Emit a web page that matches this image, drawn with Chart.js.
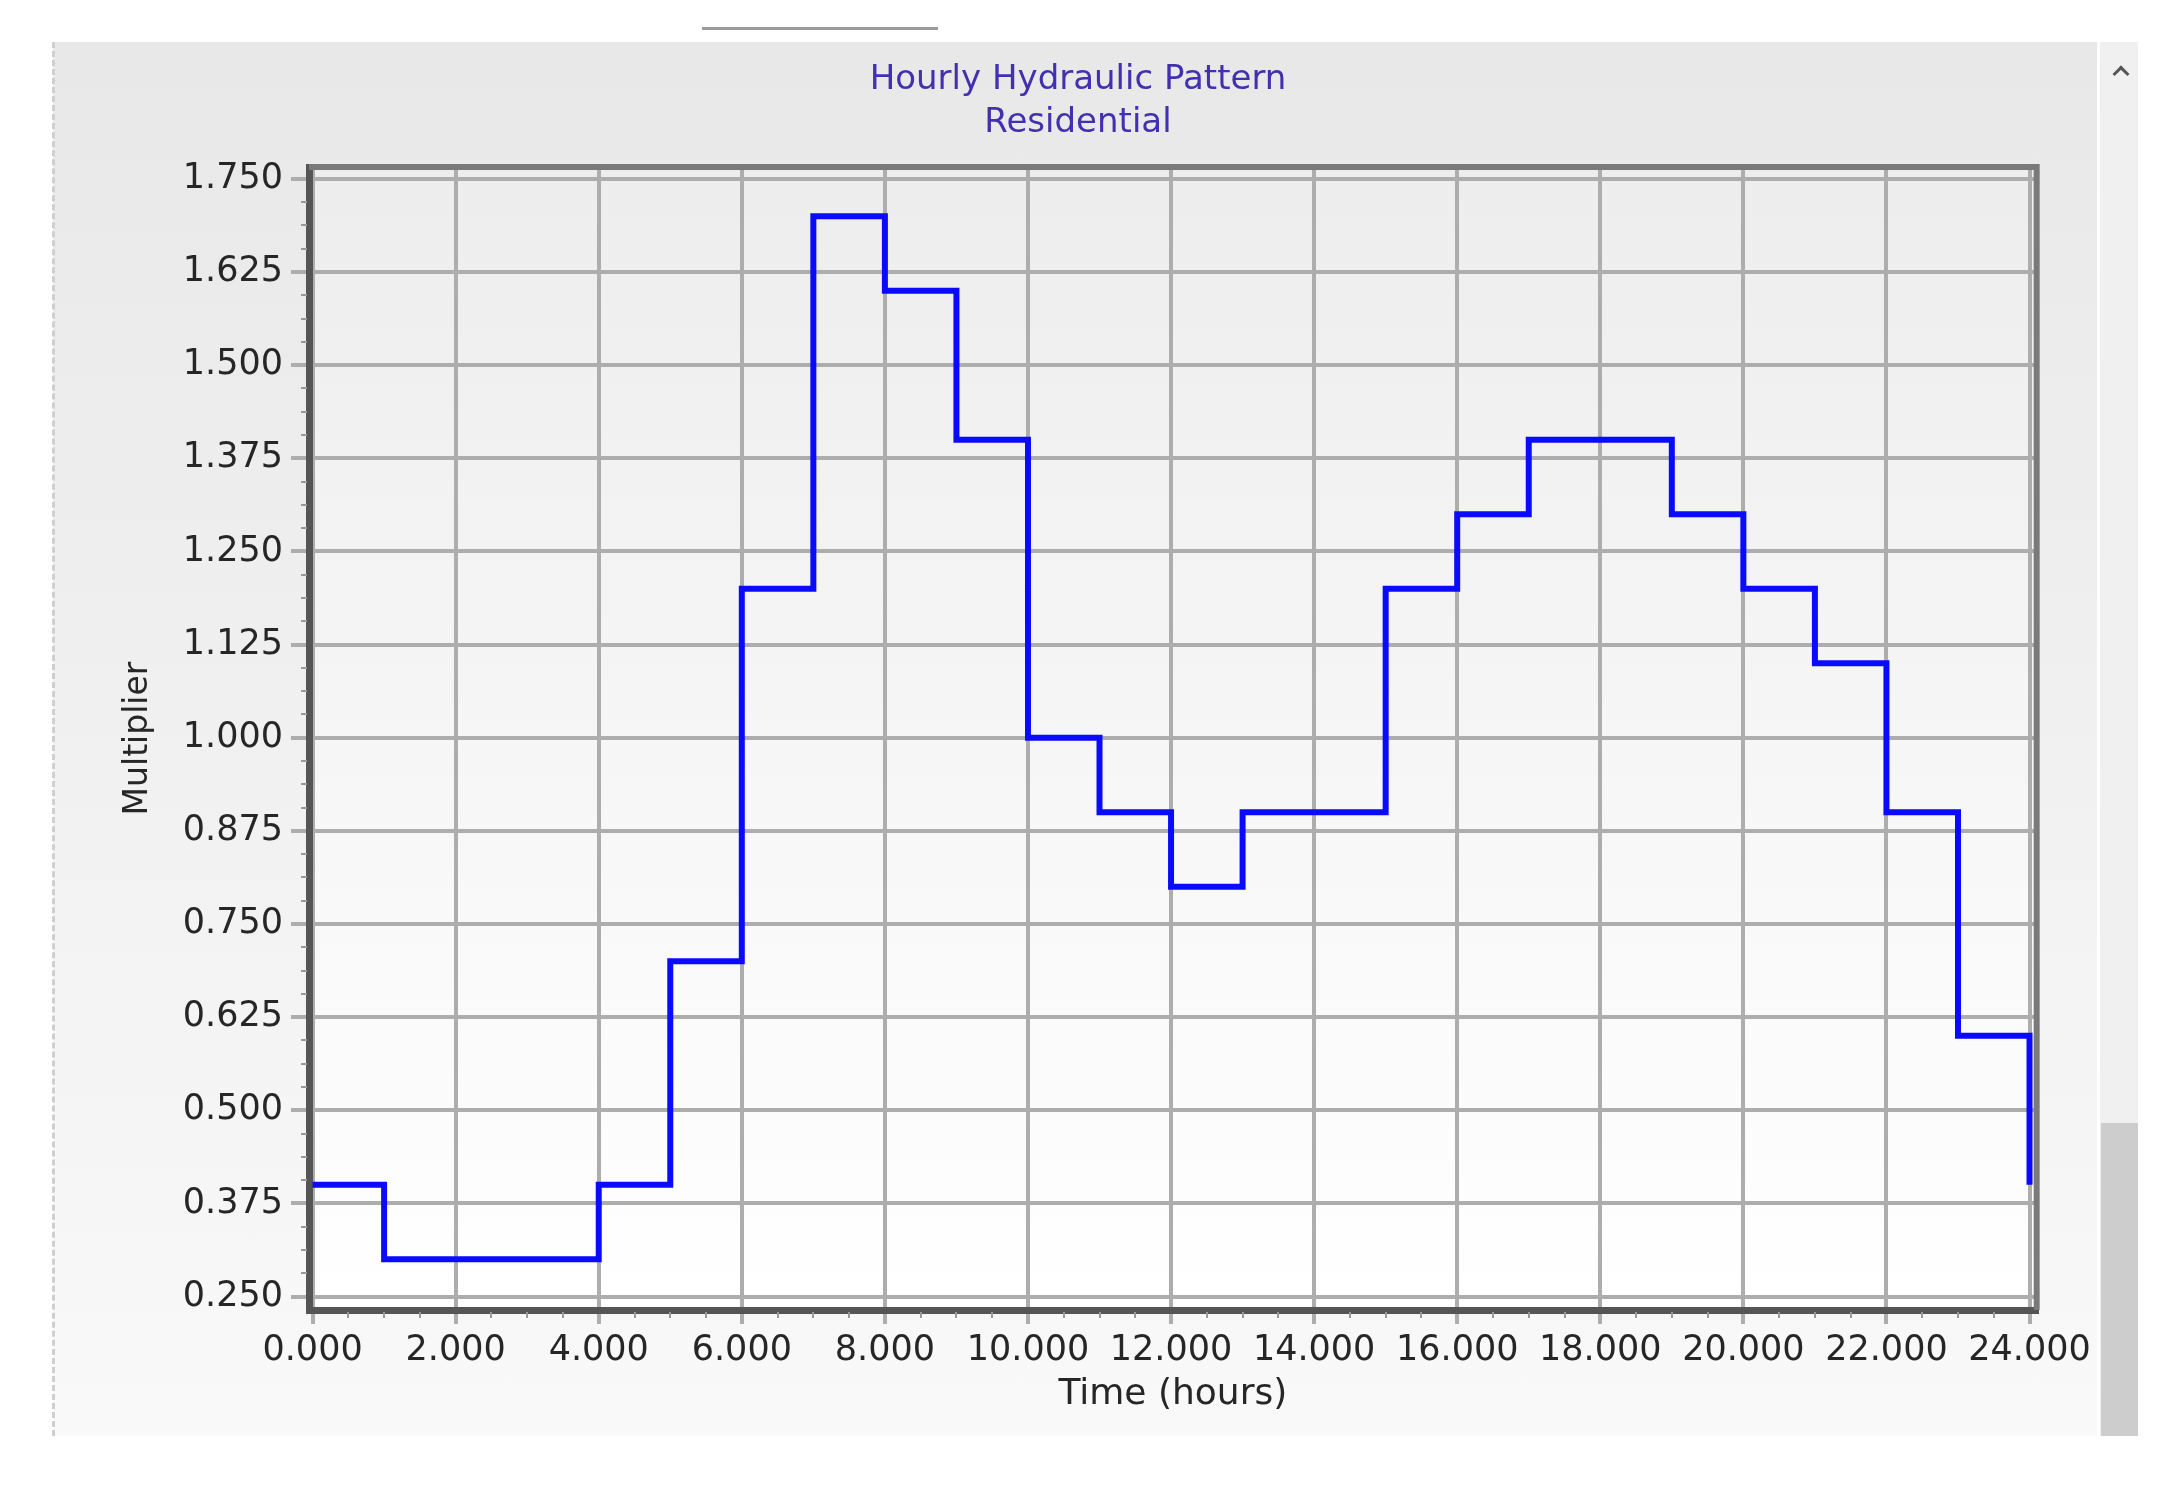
<!DOCTYPE html>
<html>
<head>
<meta charset="utf-8">
<title>Hourly Hydraulic Pattern</title>
<script src="https://cdn.jsdelivr.net/npm/chart.js@4.4.1/dist/chart.umd.min.js"></script>
<style>
  html, body { margin: 0; padding: 0; background: #fff; }
  body { width: 2180px; height: 1490px; position: relative; overflow: hidden; }
  #tab    { position: absolute; left: 702px; top: 27px; width: 236px; height: 3px; background: #9a9a9a; }
  #panel  { position: absolute; left: 53px; top: 42px; width: 2044px; height: 1394px;
            background: linear-gradient(#e8e8e8, #f9f9f9); }
  #dash   { position: absolute; left: 52px; top: 42px; height: 1394px; border-left: 3px dashed #cfcfcf; }
  #scroll { position: absolute; left: 2100px; top: 42px; width: 38px; height: 1394px; background: #f0f0f0; }
  #thumb  { position: absolute; left: 2101px; top: 1123px; width: 37px; height: 313px; background: #cdcdcd; }
  #arrow  { position: absolute; left: 2115px; top: 68px; width: 9px; height: 9px;
            border-top: 3px solid #555; border-left: 3px solid #555; transform: rotate(45deg); }
</style>
</head>
<body>
<div id="tab"></div>
<div id="panel"><canvas id="patternChart" width="2044" height="1394"></canvas></div>
<div id="dash"></div>
<div id="scroll"></div>
<div id="thumb"></div>
<div id="arrow"></div>
<script>
// ---------------- DATA ----------------
const HOURS      = [0, 1, 2, 3, 4, 5, 6, 7, 8, 9, 10, 11, 12, 13, 14, 15, 16, 17, 18, 19, 20, 21, 22, 23, 24];
const MULTIPLIER = [0.4, 0.3, 0.3, 0.3, 0.4, 0.7, 1.2, 1.7, 1.6, 1.4, 1.0, 0.9, 0.8, 0.9, 0.9, 1.2, 1.3, 1.4, 1.4, 1.3, 1.2, 1.1, 0.9, 0.6, 0.4];
const X_TICKS    = [0, 2, 4, 6, 8, 10, 12, 14, 16, 18, 20, 22, 24];
const Y_TICKS    = [0.25, 0.375, 0.5, 0.625, 0.75, 0.875, 1.0, 1.125, 1.25, 1.375, 1.5, 1.625, 1.75];
const TITLE      = ['Hourly Hydraulic Pattern', 'Residential'];

const FONT = '"DejaVu Sans", "Liberation Sans", sans-serif';
const GRID = '#adadad';
const TEXT = '#262626';

// chart area background + top/right frame + minor ticks
const framePlugin = {
  id: 'frame',
  beforeDraw(chart) {
    const { ctx, chartArea: a } = chart;
    const g = ctx.createLinearGradient(0, a.top, 0, a.bottom);
    g.addColorStop(0, '#ededed');
    g.addColorStop(1, '#ffffff');
    ctx.save();
    ctx.fillStyle = g;
    ctx.fillRect(a.left, a.top, a.right - a.left, a.bottom - a.top);
    ctx.restore();
  },
  afterDraw(chart) {
    const { ctx, chartArea: a, scales } = chart;
    ctx.save();
    ctx.strokeStyle = '#7a7a7a';
    ctx.lineWidth = 6;
    ctx.beginPath();
    ctx.moveTo(a.left, a.top);
    ctx.lineTo(a.right, a.top);
    ctx.lineTo(a.right, a.bottom);
    ctx.stroke();

    // minor ticks, 3 between each pair of labelled ticks
    ctx.strokeStyle = '#999';
    ctx.lineWidth = 2;
    ctx.beginPath();
    for (let i = 0; i < X_TICKS.length - 1; i++) {
      const step = (X_TICKS[i + 1] - X_TICKS[i]) / 4;
      for (let k = 1; k < 4; k++) {
        const px = Math.round(scales.x.getPixelForValue(X_TICKS[i] + k * step));
        ctx.moveTo(px, a.bottom + 2);
        ctx.lineTo(px, a.bottom + 8);
      }
    }
    for (let i = 0; i < Y_TICKS.length - 1; i++) {
      const step = (Y_TICKS[i + 1] - Y_TICKS[i]) / 4;
      for (let k = 1; k < 4; k++) {
        const py = Math.round(scales.y.getPixelForValue(Y_TICKS[i] + k * step));
        ctx.moveTo(a.left - 2, py);
        ctx.lineTo(a.left - 8, py);
      }
    }
    ctx.stroke();
    ctx.restore();
  }
};

const ctx = document.getElementById('patternChart').getContext('2d');

new Chart(ctx, {
  type: 'line',
  data: {
    datasets: [{
      label: 'Multiplier',
      data: HOURS.map((h, i) => ({ x: h, y: MULTIPLIER[i] })),
      stepped: 'before',
      borderColor: '#0a0aff',
      borderWidth: 6,
      pointRadius: 0,
      fill: false
    }]
  },
  options: {
    responsive: false,
    animation: false,
    devicePixelRatio: 1,
    layout: { padding: { left: 66, right: 60, top: 0, bottom: 16 } },
    plugins: {
      legend: { display: false },
      tooltip: { enabled: false },
      title: {
        display: true,
        text: TITLE,
        color: '#4230b0',
        font: { family: FONT, size: 34, weight: 'normal', lineHeight: 1.25 },
        padding: { top: 17, bottom: 23 }
      }
    },
    scales: {
      x: {
        type: 'linear',
        min: -0.05,
        max: 24.1,
        afterBuildTicks: s => { s.ticks = X_TICKS.map(v => ({ value: v })); },
        afterFit: s => { s.height = 110; },
        ticks: {
          callback: v => Number(v).toFixed(3),
          color: TEXT,
          font: { family: FONT, size: 35 },
          padding: 6,
          maxRotation: 0,
          autoSkip: false
        },
        grid: { color: GRID, lineWidth: 4, tickLength: 14 },
        border: { color: '#555', width: 7 },
        title: {
          display: true,
          text: 'Time (hours)',
          color: TEXT,
          font: { family: FONT, size: 36 },
          padding: { top: 4, bottom: 4 }
        }
      },
      y: {
        type: 'linear',
        min: 0.232,
        max: 1.766,
        afterBuildTicks: s => { s.ticks = Y_TICKS.map(v => ({ value: v })); },
        afterFit: s => { s.width = 190; },
        ticks: {
          callback: v => Number(v).toFixed(3),
          color: TEXT,
          font: { family: FONT, size: 35 },
          padding: 8
        },
        grid: { color: GRID, lineWidth: 4, tickLength: 18 },
        border: { color: '#555', width: 7 },
        title: {
          display: true,
          text: 'Multiplier',
          color: TEXT,
          font: { family: FONT, size: 33 },
          padding: { top: 0, bottom: 0 }
        }
      }
    }
  },
  plugins: [framePlugin]
});
</script>
</body>
</html>
